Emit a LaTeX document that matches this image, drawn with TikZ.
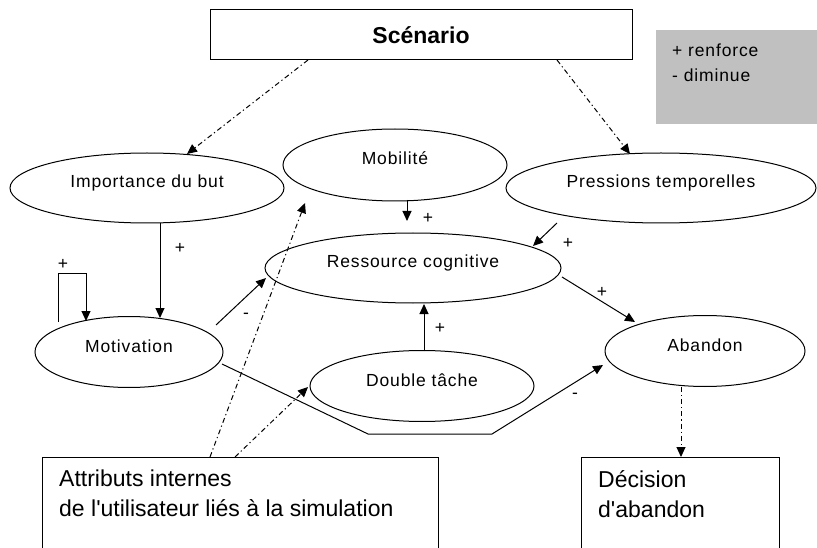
\documentclass[tikz,border=0pt]{standalone}
\usepackage{fontspec}
\setmainfont{Liberation Sans}
\newfontfamily\ellfont[LetterSpace=5]{Liberation Sans}
\usetikzlibrary{arrows.meta,calc,shapes.geometric}
\definecolor{leggray}{HTML}{C0C0C0}
\begin{document}
\begin{tikzpicture}[x=1pt,y=-1pt,
  ell/.style={ellipse,draw,line width=1pt,inner sep=0pt,outer sep=0pt,
    text height=0pt,text depth=0pt,font=\ellfont\fontsize{17.5}{20}\selectfont},
  arr/.style={line width=1pt,-{Triangle[length=10pt,width=9pt]}},
  dd/.style={arr,dash pattern=on 5pt off 3pt on 1.2pt off 3pt},
  sgn/.style={font=\ellfont\fontsize{17.5}{20}\selectfont,inner sep=0pt},
  frame/.style={inner sep=0pt,outer sep=0pt,anchor=north west},
  btxt/.style={font=\fontsize{23}{30}\selectfont,align=left,inner sep=0pt,anchor=north west},
  ltxt/.style={font=\ellfont\fontsize{17.5}{25}\selectfont,align=left,inner sep=0pt,anchor=north west}]
\useasboundingbox (0,0) rectangle (817,548);
\fill[white] (0,0) rectangle (817,548);

% boxes
\node[draw,line width=1pt,inner sep=0pt,outer sep=0pt,minimum width=422,minimum height=50,
  font=\bfseries\fontsize{23}{26}\selectfont] (scen) at (421,35) {Scénario};
\node[frame,fill=leggray,minimum width=161,minimum height=94] (leg) at (656,30) {};
\node[ltxt] (legtxt) at ($(leg.north west)+(16,14)$) {+ renforce\\- diminue};

% ellipses
\node[ell,minimum width=274,minimum height=70] (imp) at (147,188) {Importance du but};
\node[ell,minimum width=224,minimum height=72] (mob) at (395,165) {Mobilité};
\node[ell,minimum width=310,minimum height=70] (pre) at (661,188) {Pressions temporelles};
\node[ell,minimum width=296,minimum height=70] (res) at (413,268) {Ressource cognitive};
\node[ell,minimum width=188,minimum height=71] (mot) at (129,352) {Motivation};
\node[ell,minimum width=224,minimum height=71] (dbl) at (422,386) {Double tâche};
\node[ell,minimum width=200,minimum height=71] (aba) at (705,351) {Abandon};

% bottom boxes (open at the bottom edge)
\node[frame,minimum width=396,minimum height=91] (att) at (42,457) {};
\draw[line width=1pt] (att.south west) |- (att.north east) -- (att.south east);
\node[btxt] (atttxt) at ($(att.north west)+(17,13)$) {Attributs internes\\de l\textquotesingle utilisateur liés à la simulation};
\node[frame,minimum width=198,minimum height=91] (dec) at (581,457) {};
\draw[line width=1pt] (dec.south west) |- (dec.north east) -- (dec.south east);
\node[btxt] (dectxt) at ($(dec.north west)+(17,13)$) {Décision\\d\textquotesingle abandon};

% connectors
\draw[dd] ($(scen)+(-113,25)$) -- ($(imp)+(40,-34)$);
\draw[dd] ($(scen)+(136,25)$) -- ($(pre)+(-31,-34)$);
\draw[arr] ($(imp)+(13,35)$) -- ($(mot)+(31,-34)$);
\draw[arr] ($(mot)+(-71,-30)$) -- ++(0,-48) -| ($(mot)+(-43,-31)$);
\draw[arr] ($(mot)+(87,-27)$) -- ($(res)+(-147,10)$);
\draw[arr] ($(mot)+(93,12)$) -- ++(146,70) -- ++(124,0) -- ($(aba)+(-102,14)$);
\draw[arr] ($(mob)+(12,35)$) -- ($(res)+(-6,-47)$);
\draw[arr] ($(pre)+(-104,35)$) -- ($(res)+(120,-22)$);
\draw[arr] ($(res)+(149,9)$) -- ($(aba)+(-70,-29)$);
\draw[arr] ($(dbl)+(2,-35)$) -- ($(res)+(11,36)$);
\draw[dd] ($(aba)+(-24,36)$) -- ($(dec.north west)+(100,0)$);
\draw[dd] ($(att.north west)+(168,0)$) -- ($(mob)+(-90,38)$);
\draw[dd] ($(att.north west)+(193,0)$) -- ($(dbl)+(-114,1)$);

% signs
\node[sgn] (s1) at (180,248) {+};
\node[sgn] (s2) at (63,264) {+};
\node[sgn] (s3) at (246,316) {-};
\node[sgn] (s4) at (428,218) {+};
\node[sgn] (s5) at (568,243) {+};
\node[sgn] (s6) at (602,292) {+};
\node[sgn] (s7) at (440,328) {+};
\node[sgn] (s8) at (575,396) {-};
\end{tikzpicture}
\end{document}
